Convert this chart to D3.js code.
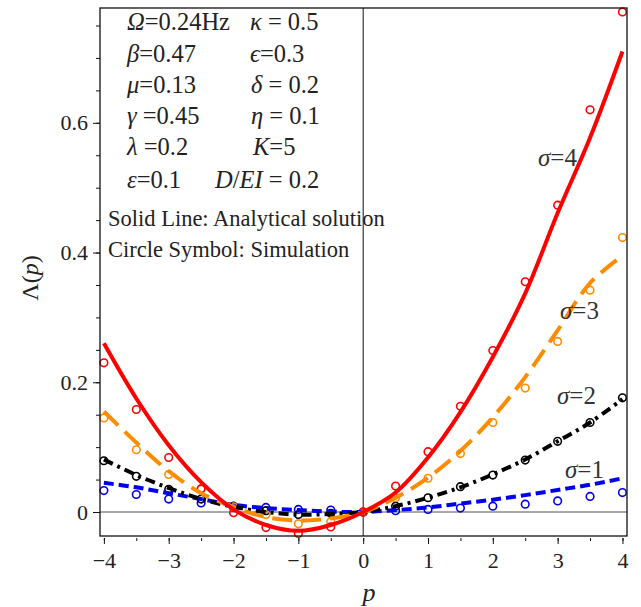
<!DOCTYPE html>
<html><head><meta charset="utf-8">
<script src="https://cdn.jsdelivr.net/npm/d3@7"></script>
</head><body style="margin:0">
<svg id="c" width="641" height="607" font-family="Liberation Serif"></svg>
<script>
// ---- data ----
const pLine = [-4,-3.5,-3,-2.5,-2,-1.5,-1,-0.5,0,0.5,1,1.5,2,2.5,3,3.5,4];
const sigma4Line = [0.260,0.175,0.103,0.046,0.004,-0.020,-0.029,-0.020,0,0.030,0.084,0.154,0.239,0.337,0.461,0.577,0.710];
const sigma3Line = [0.155,0.107,0.063,0.029,0.008,-0.008,-0.013,-0.010,0,0.022,0.053,0.094,0.146,0.208,0.280,0.353,0.395];
const sigma2Line = [0.081,0.057,0.037,0.020,0.008,0.000,-0.004,-0.003,0,0.009,0.022,0.038,0.058,0.081,0.109,0.138,0.174];
const sigma1Line = [0.045,0.038,0.029,0.020,0.011,0.006,0.003,0.0005,0,0.003,0.007,0.013,0.019,0.026,0.034,0.042,0.052];
const pSim = [-4,-3.5,-3,-2.5,-2,-1.5,-1,-0.5,0,0.5,1,1.5,2,2.5,3,3.5,4];
const sigma4Sim = [0.230,0.158,0.084,0.036,-0.001,-0.024,-0.033,-0.023,0,0.040,0.093,0.163,0.249,0.355,0.473,0.620,0.771];
const sigma3Sim = [0.145,0.096,0.058,0.035,0.008,-0.004,-0.018,-0.015,0,0.022,0.052,0.090,0.138,0.191,0.263,0.342,0.423];
const sigma2Sim = [0.079,0.055,0.035,0.020,0.009,0.002,-0.004,-0.002,0,0.009,0.022,0.039,0.057,0.080,0.109,0.138,0.176];
const sigma1Sim = [0.033,0.027,0.020,0.014,0.007,0.007,0.004,0.003,0,0.002,0.004,0.006,0.009,0.012,0.017,0.024,0.030];
const seriesNames = ["σ=1","σ=2","σ=3","σ=4"];
const xTicks = [-4,-3,-2,-1,0,1,2,3,4];
const yTicks = [0,0.2,0.4,0.6];
const paramRows = [
  [["Ω",1],["=0.24Hz",0]], [["β",1],["=0.47",0]], [["μ",1],["=0.13",0]],
  [["γ",1],[" =0.45",0]], [["λ",1],[" =0.2",0]], [["ε",1],["=0.1",0]]
];
const paramRows2 = [
  [["κ",1],[" = 0.5",0]], [["ϵ",1],["=0.3",0]], [["δ",1],[" = 0.2",0]],
  [["η",1],[" = 0.1",0]], [["K",1],["=5",0]], [["D",1],["/",0],["EI",1],[" = 0.2",0]]
];
const noteLines = ["Solid Line: Analytical solution","Circle Symbol: Simulation"];

// ---- layout ----
const FONT = "Liberation Serif";
const svg = d3.select("#c");
const L=100, R=627, T=8, B=536;
const x = d3.scaleLinear().domain([-4.06,4.07]).range([L,R]);
const y = d3.scaleLinear().domain([-0.037,0.777]).range([B,T]);
const tx = sel => sel.attr("font-family",FONT).attr("fill","#222");

const minorY = d3.range(0,0.76,0.05).map(v=>+v.toFixed(2));
svg.append("g").attr("transform",`translate(${L},0)`)
  .call(d3.axisLeft(y).tickValues(minorY).tickSize(4).tickFormat(""))
  .call(g=>g.select(".domain").remove()).selectAll("line").attr("stroke","#111");
svg.append("g").attr("transform",`translate(${L},0)`)
  .call(d3.axisLeft(y).tickValues(yTicks).tickSize(7).tickPadding(5).tickFormat(d=>d===0?"0":d3.format(".1f")(d)))
  .call(g=>g.select(".domain").remove())
  .call(g=>{g.attr("font-family",FONT).attr("font-size",22);g.selectAll("line").attr("stroke","#111");g.selectAll("text").call(tx);});
const minorX = d3.range(-4,4.01,0.5);
svg.append("g").attr("transform",`translate(0,${B+2})`)
  .call(d3.axisBottom(x).tickValues(minorX).tickSize(3).tickFormat(""))
  .call(g=>g.select(".domain").remove()).selectAll("line").attr("stroke","#111");
svg.append("g").attr("transform",`translate(0,${B+2})`)
  .call(d3.axisBottom(x).tickValues(xTicks).tickSize(6).tickPadding(8).tickFormat(d=>d<0?"−"+Math.abs(d):String(d)))
  .call(g=>g.select(".domain").remove())
  .call(g=>{g.attr("font-family",FONT).attr("font-size",22);g.selectAll("line").attr("stroke","#111");g.selectAll("text").call(tx);});

svg.append("line").attr("x1",L).attr("x2",R).attr("y1",y(0)).attr("y2",y(0)).attr("stroke","#555").attr("stroke-width",1.2);
svg.append("line").attr("x1",x(0)).attr("x2",x(0)).attr("y1",T).attr("y2",B).attr("stroke","#111").attr("stroke-width",1);

const styles = [
  {c:"#0000ee",w:4,d:"10,5"},
  {c:"#000000",w:4,d:"10,5,3,5"},
  {c:"#ff8c00",w:4,d:"20,9"},
  {c:"#ff0000",w:4,d:null}
];
const simSets=[sigma1Sim,sigma2Sim,sigma3Sim,sigma4Sim];
const lineSets=[sigma1Line,sigma2Line,sigma3Line,sigma4Line];
simSets.forEach((s,i)=>{
  svg.append("g").selectAll("circle").data(pSim.map((p,k)=>[p,s[k]])).join("circle")
    .attr("cx",d=>x(d[0])).attr("cy",d=>y(d[1])).attr("r",3.8)
    .attr("fill","none").attr("stroke",styles[i].c).attr("stroke-width",1.6);
});
const line = d3.line().x(d=>x(d[0])).y(d=>y(d[1])).curve(d3.curveCatmullRom);
lineSets.forEach((s,i)=>{
  svg.append("path").datum(pLine.map((p,k)=>[p,s[k]])).attr("d",line)
    .attr("fill","none").attr("stroke",styles[i].c).attr("stroke-width",styles[i].w)
    .attr("stroke-dasharray",styles[i].d);
});

svg.append("rect").attr("x",L).attr("y",T).attr("width",R-L).attr("height",B-T).attr("fill","none").attr("stroke","#111").attr("stroke-width",1.3);

const labPos=[[538,478],[557,404],[560,319],[531,166]];
const labX=[565,557,560,538];
seriesNames.forEach((n,i)=>{
  const t=svg.append("text").attr("x",labX[i]).attr("y",labPos[i][1]).attr("font-size",25).call(tx).attr("fill","#333");
  t.append("tspan").attr("font-style","italic").text(n[0]);
  t.append("tspan").text(n.slice(1));
});

const rowY=[30,62,93,124,155,188];
const col2X=[250,250,251,251,253,215];
function rich(xp,yp,parts){
  const t=svg.append("text").attr("x",xp).attr("y",yp).attr("font-size",24.5).call(tx);
  parts.forEach(p=>t.append("tspan").attr("font-style",p[1]?"italic":"normal").text(p[0]));
}
paramRows.forEach((r,i)=>rich(127,rowY[i],r));
paramRows2.forEach((r,i)=>rich(col2X[i],rowY[i],r));
noteLines.forEach((s,i)=>svg.append("text").attr("x",108).attr("y",[226,257][i]).attr("font-size",22.5).call(tx).text(s));

const yl=svg.append("text").attr("transform","translate(38,278) rotate(-90)").attr("text-anchor","middle").attr("font-size",24).call(tx);
yl.append("tspan").text("Λ(");yl.append("tspan").attr("font-style","italic").text("p");yl.append("tspan").text(")");
svg.append("text").attr("x",369).attr("y",601).attr("text-anchor","middle").attr("font-size",26).attr("font-style","italic").call(tx).text("p");
</script></body></html>
